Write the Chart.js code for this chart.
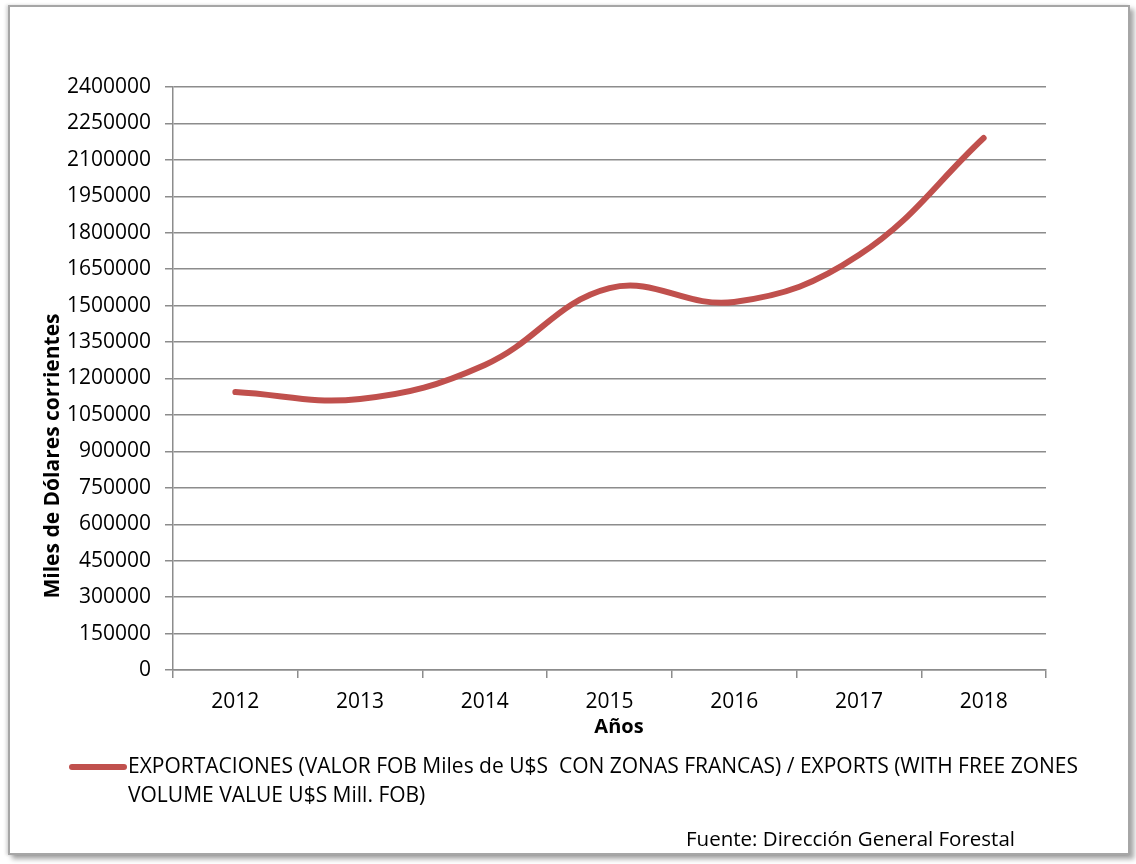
<!DOCTYPE html>
<html>
<head>
<meta charset="utf-8">
<script src="https://cdn.jsdelivr.net/npm/chart.js@4/dist/chart.umd.min.js"></script>
<style>
  html, body { margin: 0; padding: 0; background: #ffffff; }
  #wrap { position: relative; width: 1136px; height: 864px; overflow: hidden; background: #fff; }
  #frame { position: absolute; left: 8px; top: 5px; width: 1118px; height: 846px;
           border: 2px solid #a6a6a6; box-shadow: 4px 4px 5px rgba(0,0,0,0.35), -2px 0 3px rgba(0,0,0,0.15); background: #fff; }
  canvas { position: absolute; left: 0; top: 0; }
</style>
</head>
<body>
<div id="wrap">
  <div id="frame"></div>
  <canvas id="c" width="1136" height="864"></canvas>
</div>
<script>
const years = ['2012', '2013', '2014', '2015', '2016', '2017', '2018'];
const exportsValues = [1144000, 1116000, 1256000, 1572000, 1515000, 1708000, 2190000];
const seriesLabel = 'EXPORTACIONES (VALOR FOB Miles de U$S  CON ZONAS FRANCAS) / EXPORTS (WITH FREE ZONES';
const seriesLabel2 = 'VOLUME VALUE U$S Mill. FOB)';
const yTitle = 'Miles de Dólares corrientes';
const xTitle = 'Años';
const sourceText = 'Fuente: Dirección General Forestal';
const yMin = 0, yMax = 2400000, yStep = 150000;

const FONT = "'Open Sans', 'Liberation Sans', sans-serif";
const lineColor = '#C0504D';
const gridColor = '#8c8c8c';

const extrasPlugin = {
  id: 'extras',
  afterDraw(chart) {
    const ctx = chart.ctx;
    ctx.save();
    ctx.fillStyle = '#000';
    ctx.font = "bold 21px " + FONT;
    ctx.textAlign = 'center';
    ctx.textBaseline = 'middle';
    ctx.translate(53, 456);
    ctx.rotate(-Math.PI / 2);
    ctx.fillText(yTitle, 0, 0);
    ctx.restore();

    ctx.save();
    ctx.fillStyle = '#000';
    ctx.font = "bold 20px " + FONT;
    ctx.textAlign = 'center';
    ctx.textBaseline = 'middle';
    ctx.fillText(xTitle, 619, 727);

    const ds = chart.data.datasets[0];
    ctx.strokeStyle = ds.borderColor;
    ctx.lineWidth = 6;
    ctx.lineCap = 'round';
    ctx.beginPath();
    ctx.moveTo(72, 767);
    ctx.lineTo(124, 767);
    ctx.stroke();
    ctx.font = "21px " + FONT;
    ctx.textAlign = 'left';
    ctx.fillText(ds.label, 128, 767);
    ctx.fillText(seriesLabel2, 128, 796);

    ctx.font = "20.5px " + FONT;
    ctx.fillText(sourceText, 686, 840);
    ctx.restore();
  }
};

new Chart(document.getElementById('c'), {
  type: 'line',
  data: {
    labels: years,
    datasets: [{
      label: seriesLabel,
      data: exportsValues,
      borderColor: lineColor,
      backgroundColor: lineColor,
      borderWidth: 6,
      borderCapStyle: 'round',
      borderJoinStyle: 'round',
      pointRadius: 0,
      pointHoverRadius: 0,
      tension: 0.4,
      fill: false
    }]
  },
  options: {
    responsive: false,
    animation: false,
    events: [],
    layout: { padding: { left: 0, right: 90, top: 87, bottom: 154 } },
    plugins: { legend: { display: false }, tooltip: { enabled: false } },
    scales: {
      x: {
        offset: true,
        grid: { display: true, offset: true, drawOnChartArea: false, drawTicks: true, tickLength: 8, color: gridColor, lineWidth: 1.5 },
        border: { display: true, color: gridColor, width: 1.5 },
        ticks: { color: '#000', font: { family: FONT, size: 21 }, padding: 11, maxRotation: 0 },
        afterFit(s) { s.height = 40; }
      },
      y: {
        min: yMin, max: yMax,
        grid: { display: true, drawOnChartArea: true, drawTicks: true, tickLength: 8, color: gridColor, lineWidth: 1.5 },
        border: { display: true, color: gridColor, width: 1.5 },
        ticks: { stepSize: yStep, color: '#000', font: { family: FONT, size: 21 }, padding: 14,
                 callback: v => String(v) },
        afterFit(s) { s.width = 173; }
      }
    }
  },
  plugins: [extrasPlugin]
});
</script>
</body>
</html>
